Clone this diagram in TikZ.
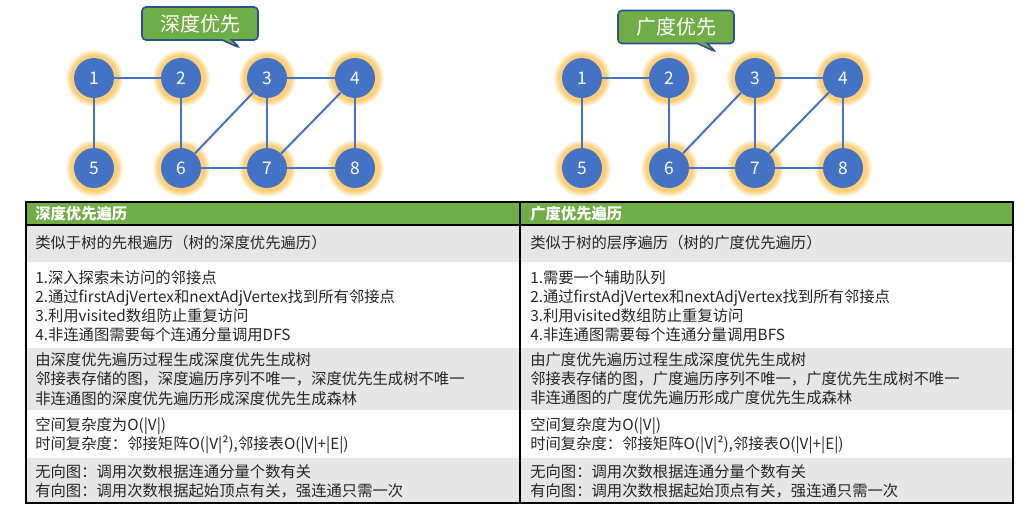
\documentclass[tikz,border=0pt]{standalone}
\usepackage{fontspec}
\setmainfont{Noto Sans CJK SC}
\usepackage{tikz}
\usetikzlibrary{shadows, shapes.callouts}
\definecolor{vblue}{HTML}{4472C4}
\definecolor{hgreen}{HTML}{70AD47}
\definecolor{tagborder}{HTML}{2F528F}
\definecolor{rowgray}{HTML}{E6E6E6}
\definecolor{glowc}{HTML}{FFB020}

\begin{document}
\begin{tikzpicture}[
    x=0.75pt, y=-0.75pt,
    vertex/.style={circle, fill=vblue, minimum size=30pt, inner sep=0pt,
        text=white, font=\fontsize{13}{13}\selectfont,
        circular glow={fill=glowc, opacity=0.6, shadow scale=1.45,
            path fading=circle with fuzzy edge 20 percent}},
    link/.style={draw=vblue, line width=1.5pt},
    tag/.style={rectangle callout, rounded corners=3pt, fill=hgreen,
        draw=tagborder, line width=1.2pt, text=white,
        minimum width=87pt, minimum height=24.75pt,
        font=\fontsize{15}{15}\selectfont},
    cell/.style={anchor=west, align=left, inner sep=0pt, text=black!85,
        font=\fontsize{11.5}{14.4}\selectfont},
    head/.style={cell, text=white, font=\fontsize{11.5}{14.4}\selectfont\bfseries},
]
\useasboundingbox (0,0) rectangle (1029,511);

% the two graphs
\foreach \s/\dx in {L/0, R/488} {
    \node[vertex] (\s1) at ( 94+\dx,  78) {1};
    \node[vertex] (\s2) at (181+\dx,  78) {2};
    \node[vertex] (\s3) at (267+\dx,  78) {3};
    \node[vertex] (\s4) at (355+\dx,  78) {4};
    \node[vertex] (\s5) at ( 94+\dx, 168) {5};
    \node[vertex] (\s6) at (181+\dx, 168) {6};
    \node[vertex] (\s7) at (267+\dx, 168) {7};
    \node[vertex] (\s8) at (355+\dx, 168) {8};
    \draw[link] (\s1) -- (\s2);
    \draw[link] (\s1) -- (\s5);
    \draw[link] (\s2) -- (\s6);
    \draw[link] (\s3) -- (\s4);
    \draw[link] (\s3) -- (\s6);
    \draw[link] (\s3) -- (\s7);
    \draw[link] (\s4) -- (\s7);
    \draw[link] (\s4) -- (\s8);
    \draw[link] (\s6) -- (\s7);
    \draw[link] (\s7) -- (\s8);
}

\node[tag, callout absolute pointer={(240,48)}] (dfsTag) at (200,23.5) {深度优先};
\node[tag, callout absolute pointer={(716,52)}] (bfsTag) at (676,27) {广度优先};

% table
\fill[hgreen] (26,202) rectangle (1013,225);
\fill[rowgray] (26,225) rectangle (1013,262);
\fill[rowgray] (26,348) rectangle (1013,410);
\fill[rowgray] (26,458) rectangle (1013,503);
\draw[line width=1.1pt] (26,225) -- (1013,225);
\draw[line width=1.5pt] (520,202) -- (520,503);
\draw[line width=1.5pt] (26,202) rectangle (1013,503);

\node[head] (dfsHead) at (35,214) {深度优先遍历};
\node[head] (bfsHead) at (530,214) {广度优先遍历};

\node[cell] (dfsA) at (35,243) {类似于树的先根遍历（树的深度优先遍历）};
\node[cell] (bfsA) at (530,243) {类似于树的层序遍历（树的广度优先遍历）};

\node[cell] (dfsB) at (35,306) {1.深入探索未访问的邻接点\\
    2.通过firstAdjVertex和nextAdjVertex找到所有邻接点\\
    3.利用visited数组防止重复访问\\
    4.非连通图需要每个连通分量调用DFS};
\node[cell] (bfsB) at (530,306) {1.需要一个辅助队列\\
    2.通过firstAdjVertex和nextAdjVertex找到所有邻接点\\
    3.利用visited数组防止重复访问\\
    4.非连通图需要每个连通分量调用BFS};

\node[cell] (dfsC) at (35,379) {由深度优先遍历过程生成深度优先生成树\\
    邻接表存储的图，深度遍历序列不唯一，深度优先生成树不唯一\\
    非连通图的深度优先遍历形成深度优先生成森林};
\node[cell] (bfsC) at (530,379) {由广度优先遍历过程生成深度优先生成树\\
    邻接表存储的图，广度遍历序列不唯一，广度优先生成树不唯一\\
    非连通图的广度优先遍历形成广度优先生成森林};

\node[cell] (dfsD) at (35,436) {空间复杂度为O(|V|)\\
    时间复杂度：邻接矩阵O(|V|²),邻接表O(|V|+|E|)};
\node[cell] (bfsD) at (530,436) {空间复杂度为O(|V|)\\
    时间复杂度：邻接矩阵O(|V|²),邻接表O(|V|+|E|)};

\node[cell] (dfsE) at (35,481.5) {无向图：调用次数根据连通分量个数有关\\
    有向图：调用次数根据起始顶点有关，强连通只需一次};
\node[cell] (bfsE) at (530,481.5) {无向图：调用次数根据连通分量个数有关\\
    有向图：调用次数根据起始顶点有关，强连通只需一次};

\end{tikzpicture}
\end{document}
